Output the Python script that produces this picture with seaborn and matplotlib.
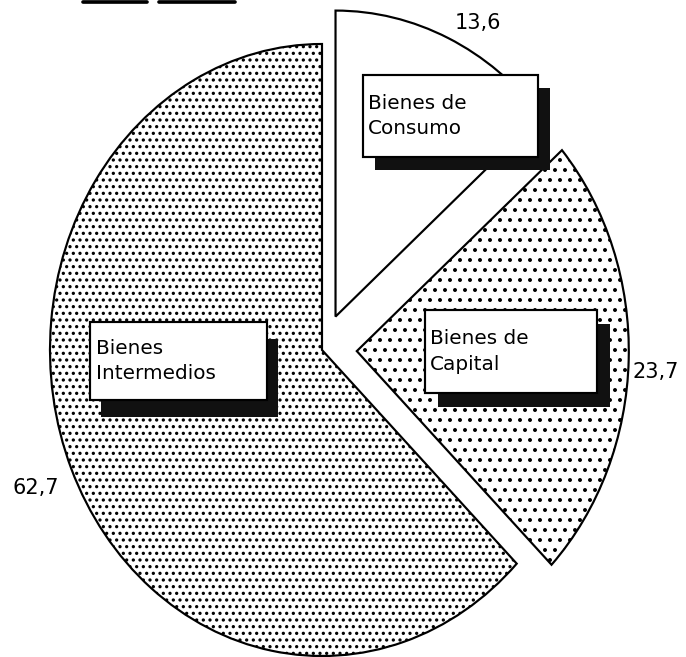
import matplotlib
matplotlib.use("Agg")
import matplotlib.pyplot as plt
import seaborn as sns
from matplotlib.patches import Rectangle
from matplotlib.lines import Line2D

# --- datos ---
categorias = ["Bienes de\nConsumo", "Bienes de\nCapital", "Bienes\nIntermedios"]
participacion = [13.6, 23.7, 62.7]
etiquetas_valor = [f"{v:.1f}".replace(".", ",") for v in participacion]
separacion = [0.12, 0.128, 0.0]

# --- estilo ---
sns.set_style("white")
plt.rcParams["font.family"] = ["DejaVu Sans"]
plt.rcParams["text.color"] = "black"
plt.rcParams["hatch.linewidth"] = 1.15

W, H, DPI = 686, 657, 120
fig = plt.figure(figsize=(W / DPI, H / DPI), dpi=DPI)
ax = fig.add_axes([0, 0, 1, 1])

wedges, _ = ax.pie(
    participacion,
    explode=separacion,
    startangle=90,
    counterclock=False,
    radius=1.0,
    colors=["white"] * 3,
    wedgeprops=dict(edgecolor="black", linewidth=1.3),
)
for w, h in zip(wedges, ["", "..", "..."]):
    w.set_hatch(h)

# la torta original está algo achatada (elipse): escala distinta en x e y
rx, ry = 272, 306
cx, cy = 322, 350
ax.set_aspect("auto")
ax.set_xlim(-cx / rx, (W - cx) / rx)
ax.set_ylim(-(H - cy) / ry, cy / ry)
ax.axis("off")

tf = fig.transFigure
def fx(x):
    return x / W
def fy(y):
    return 1 - y / H

# cajas de etiqueta (px, y hacia abajo): x0, y0, x1, y1, texto_x, sombra
cajas = [
    (363, 75, 538, 157, 368, (12, 13)),
    (425, 310, 597, 393, 430, (13, 14)),
    (90, 322, 267, 400, 96, (11, 17)),
]
for (x0, y0, x1, y1, tx, (sx, sy)), nombre in zip(cajas, categorias):
    ax.add_patch(Rectangle((fx(x0 + sx), fy(y1 + sy)), (x1 - x0) / W, (y1 - y0) / H,
                           transform=tf, facecolor="#111111", edgecolor="none", zorder=3))
    ax.add_patch(Rectangle((fx(x0), fy(y1)), (x1 - x0) / W, (y1 - y0) / H,
                           transform=tf, facecolor="white", edgecolor="black",
                           linewidth=1.3, zorder=4))
    ax.text(fx(tx), fy((y0 + y1) / 2), nombre, transform=tf, ha="left", va="center",
            fontsize=12, linespacing=1.45, zorder=5)

# valores
pos_valor = [(478, 23), (656, 372), (36, 488)]
for (x, y), txt in zip(pos_valor, etiquetas_valor):
    ax.text(fx(x), fy(y), txt, transform=tf, ha="center", va="center", fontsize=12.5)

# resto del subrayado del título (recortado)
for xa, xb in [(83, 147), (159, 235)]:
    fig.add_artist(Line2D([fx(xa), fx(xb)], [fy(1.5), fy(1.5)],
                          color="black", linewidth=2.2))

fig.savefig("out.png", dpi=DPI)
